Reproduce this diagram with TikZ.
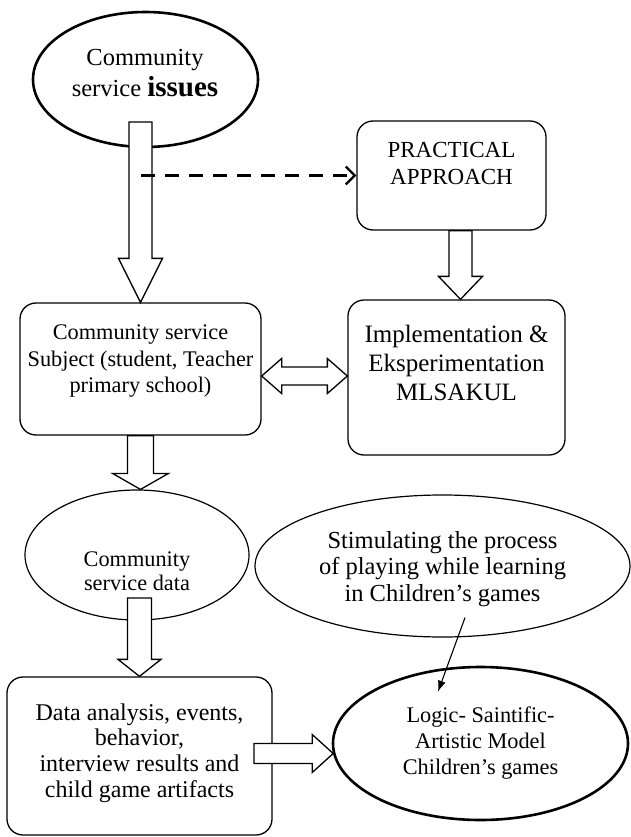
\documentclass[tikz,border=0pt]{standalone}
\usepackage{fontspec}
\setmainfont{Liberation Serif}
\usetikzlibrary{calc,arrows.meta,shapes.geometric}

\newcommand\fsz[2]{\fontsize{#1}{#2}\selectfont}

% hollow block arrows: start, tip, half shaft width, half head width, head length
\newcommand\downblock[5]{%
  \draw[blk] let \p1=(#1), \p2=(#2) in
    (\x2-#3,\y1) -- (\x2-#3,\y2+#5) -- (\x2-#4,\y2+#5) -- (\x2,\y2)
    -- (\x2+#4,\y2+#5) -- (\x2+#3,\y2+#5) -- (\x2+#3,\y1) -- cycle;}
\newcommand\rightblock[5]{%
  \draw[blk] let \p1=(#1), \p2=(#2) in
    (\x1,\y2+#3) -- (\x2-#5,\y2+#3) -- (\x2-#5,\y2+#4) -- (\x2,\y2)
    -- (\x2-#5,\y2-#4) -- (\x2-#5,\y2-#3) -- (\x1,\y2-#3) -- cycle;}
\newcommand\bothblock[5]{%
  \draw[blk] let \p1=(#1), \p2=(#2) in
    (\x1,\y1) -- (\x1+#5,\y1+#4) -- (\x1+#5,\y1+#3) -- (\x2-#5,\y1+#3)
    -- (\x2-#5,\y1+#4) -- (\x2,\y1) -- (\x2-#5,\y1-#4) -- (\x2-#5,\y1-#3)
    -- (\x1+#5,\y1-#3) -- (\x1+#5,\y1-#4) -- cycle;}

\begin{document}
\begin{tikzpicture}[x=1pt,y=-1pt,
  txt/.style={align=center, inner sep=0pt},
  rbox/.style={draw, line width=1.3pt, rounded corners=16pt, inner sep=0pt},
  oval/.style={draw, ellipse, line width=1.2pt, inner sep=0pt},
  thickoval/.style={oval, line width=2.6pt},
  blk/.style={draw, fill=white, line width=1.3pt, line join=miter},
  dashlink/.style={line width=2.4pt, dash pattern=on 14pt off 10pt,
    -{Straight Barb[length=9pt,width=18pt,line width=2.2pt]}},
  thinlink/.style={line width=1.1pt, -{Latex[length=11pt,width=8pt]}}
]
\useasboundingbox (0,0) rectangle (630,837);

% shapes
\node[thickoval, minimum width=225pt, minimum height=135pt] (issues) at (145.5,79.5) {};
\node[rbox, minimum width=189pt, minimum height=109pt] (practical) at (451.5,175.5) {};
\node[rbox, minimum width=241pt, minimum height=132pt] (subject) at (140.5,369) {};
\node[rbox, minimum width=217pt, minimum height=155pt] (impl) at (456.5,377.5) {};
\node[oval, minimum width=224pt, minimum height=130pt] (data) at (137,555) {};
\node[oval, minimum width=375pt, minimum height=142pt] (stim) at (442.5,566) {};
\node[rbox, minimum width=265pt, minimum height=158pt] (analysis) at (139.5,756) {};
\node[thickoval, minimum width=295pt, minimum height=153pt] (logic) at (480.5,743.5) {};

% connector end points
\coordinate (a1s) at (141,122);
\coordinate (a2s) at ($(practical.south)+(9,0)$);
\coordinate (a2t) at ($(impl.north)+(4,0)$);
\coordinate (a3t) at (subject.south |- data.north);
\coordinate (a4s) at (140,598);
\coordinate (a5s) at (254,753);
\coordinate (a5t) at ($(logic.west)+(1.5,10)$);
\coordinate (dm) at (0,376);
\coordinate (s1) at ($(stim.south)+(22.5,-20)$);
\coordinate (s2) at ($(logic.north)+(-42.5,26)$);

% connectors
\downblock{a1s}{subject.north}{11.5pt}{22pt}{44pt}
\draw[dashlink] (a1s |- practical.west) -- (practical.west);
\downblock{a2s}{a2t}{11.5pt}{22pt}{23pt}
\bothblock{subject.east |- dm}{impl.west |- dm}{9pt}{17.5pt}{20pt}
\downblock{subject.south}{a3t}{13pt}{28pt}{16pt}
\downblock{a4s}{analysis.north}{12pt}{21.5pt}{17pt}
\rightblock{a5s}{a5t}{10pt}{19pt}{21pt}
\draw[thinlink] (s1) -- (s2);

% texts
\node[txt, font=\fsz{24.5}{27.6}] (issuesT) at (145,73) {Community\\[3pt]service {\fsz{29}{30}\bfseries issues}};
\node[txt, font=\fsz{23}{27}] (practicalT) at (451.5,163) {PRACTICAL\\APPROACH};
\node[txt, font=\fsz{22.3}{26.5}] (subjectT) at (140.5,361.5) {Community service\\Subject (student, Teacher\\primary school)};
\node[txt, font=\fsz{25}{29}] (implT) at (456.5,362.5) {Implementation \&\\Eksperimentation\\MLSAKUL};
\node[txt, font=\fsz{22.3}{23.5}] (dataT) at (137,571) {Community\\service data};
\node[txt, font=\fsz{24}{25.7}] (analysisT) at (139.5,753) {Data analysis, events,\\behavior,\\interview results and\\child game artifacts};
\node[txt, font=\fsz{24.5}{26.5}] (stimT) at (442.5,569) {Stimulating the process\\of playing while learning\\in Children’s games};
\node[txt, font=\fsz{22.3}{26}] (logicT) at (480.5,743) {Logic- Saintific-\\Artistic Model\\Children’s games};
\end{tikzpicture}
\end{document}
